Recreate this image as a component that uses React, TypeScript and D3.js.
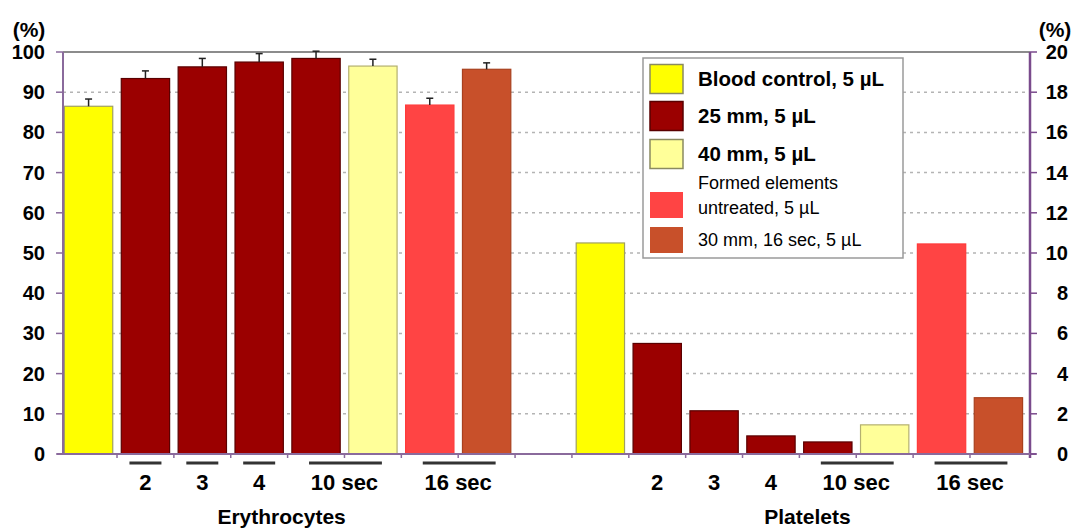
import React, { useEffect, useRef } from 'react';
import * as d3 from 'd3';

// series shown in the legend
const seriesNames = [
  'Blood control, 5 µL',
  '25 mm, 5 µL',
  '40 mm, 5 µL',
  'Formed elements|untreated, 5 µL',
  '30 mm, 16 sec, 5 µL',
];
const seriesColors = ['#ffff00', '#9b0000', '#ffff99', '#ff4444', '#c8502a'];
const seriesStroke = ['#a0a060', '#5a0000', '#b4b070', '#ff3a3a', '#a8401e'];

// bars of each group, in order (index into the series above)
const barSeries = [0, 1, 1, 1, 1, 2, 3, 4];

// Erythrocytes, left axis (%)
const eryKeys = ['E1', 'E2', 'E3', 'E4', 'E5', 'E6', 'E7', 'E8'];
const eryValues = [86.5, 93.4, 96.3, 97.5, 98.4, 96.5, 86.8, 95.7];
const eryErrors = [1.8, 1.9, 2.1, 2.1, 1.8, 1.7, 1.7, 1.6];

// Platelets, right axis (%)
const pltKeys = ['P1', 'P2', 'P3', 'P4', 'P5', 'P6', 'P7', 'P8'];
const pltValues = [10.5, 5.5, 2.15, 0.9, 0.6, 1.45, 10.45, 2.8];

// labels under the bars: text, first and last key, underline or not
const xLabels = [
  { text: '2', from: 'E2', to: 'E2', line: true },
  { text: '3', from: 'E3', to: 'E3', line: true },
  { text: '4', from: 'E4', to: 'E4', line: true },
  { text: '10 sec', from: 'E5', to: 'E6', line: true },
  { text: '16 sec', from: 'E7', to: 'E8', line: true },
  { text: '2', from: 'P2', to: 'P2', line: false },
  { text: '3', from: 'P3', to: 'P3', line: false },
  { text: '4', from: 'P4', to: 'P4', line: false },
  { text: '10 sec', from: 'P5', to: 'P6', line: true },
  { text: '16 sec', from: 'P7', to: 'P8', line: true },
];
const groupNames = ['Erythrocytes', 'Platelets'];

const leftTicks = [0, 10, 20, 30, 40, 50, 60, 70, 80, 90, 100];
const rightTicks = [0, 2, 4, 6, 8, 10, 12, 14, 16, 18, 20];

export default function App() {
  const svgRef = useRef<SVGSVGElement>(null);

  const width = 1074;
  const height = 528;
  const left = 63, right = 1030, top = 52, bottom = 454;
  const font = '"Liberation Sans", Arial, sans-serif';

  useEffect(() => {
    const svg = d3.select(svgRef.current);
    svg.selectAll('*').remove();

    const keys = [...eryKeys, 'gap', ...pltKeys];
    const x = d3.scaleBand<string>().domain(keys).range([61, 1026])
      .paddingInner(0.15).paddingOuter(0.06);
    const yL = d3.scaleLinear().domain([0, 100]).range([bottom, top]);
    const yR = d3.scaleLinear().domain([0, 20]).range([bottom, top]);
    const bw = x.bandwidth();
    const gapHalf = (x.step() - bw) / 2;

    svg.append('rect').attr('width', width).attr('height', height).attr('fill', '#fff');

    // dotted grid
    svg.append('g')
      .selectAll('line')
      .data(leftTicks.slice(1, -1))
      .join('line')
      .attr('x1', left).attr('x2', right)
      .attr('y1', d => yL(d)).attr('y2', d => yL(d))
      .attr('stroke', '#b4b4b4').attr('stroke-width', 1.5)
      .attr('stroke-dasharray', '3,4');

    // top border
    svg.append('line')
      .attr('x1', left).attr('x2', right).attr('y1', yL(100)).attr('y2', yL(100))
      .attr('stroke', '#8c8c8c').attr('stroke-width', 2);

    // bars
    const bars = svg.append('g');
    bars.selectAll('rect.ery')
      .data(eryValues)
      .join('rect')
      .attr('class', 'ery')
      .attr('x', (d, i) => x(eryKeys[i])!)
      .attr('y', d => yL(d))
      .attr('width', bw)
      .attr('height', d => bottom - yL(d))
      .attr('fill', (d, i) => seriesColors[barSeries[i]])
      .attr('stroke', (d, i) => seriesStroke[barSeries[i]])
      .attr('stroke-width', 1.2);

    bars.selectAll('rect.plt')
      .data(pltValues)
      .join('rect')
      .attr('class', 'plt')
      .attr('x', (d, i) => x(pltKeys[i])!)
      .attr('y', d => yR(d))
      .attr('width', bw)
      .attr('height', d => bottom - yR(d))
      .attr('fill', (d, i) => seriesColors[barSeries[i]])
      .attr('stroke', (d, i) => seriesStroke[barSeries[i]])
      .attr('stroke-width', 1.2);

    // error bars
    const err = svg.append('g').attr('stroke', '#222').attr('stroke-width', 1.5);
    eryValues.forEach((v, i) => {
      const cx = x(eryKeys[i])! + bw / 2;
      err.append('line').attr('x1', cx).attr('x2', cx)
        .attr('y1', yL(v)).attr('y2', yL(v + eryErrors[i]));
      err.append('line').attr('x1', cx - 3.5).attr('x2', cx + 3.5)
        .attr('y1', yL(v + eryErrors[i])).attr('y2', yL(v + eryErrors[i]));
    });

    // axes
    const axisColor = '#8a6a9c';
    svg.append('line').attr('x1', left).attr('x2', left).attr('y1', top).attr('y2', bottom)
      .attr('stroke', axisColor).attr('stroke-width', 2);
    svg.append('line').attr('x1', right).attr('x2', right).attr('y1', top).attr('y2', bottom + 4)
      .attr('stroke', '#7a4a8c').attr('stroke-width', 2.5);
    svg.append('line').attr('x1', left - 6).attr('x2', right + 6).attr('y1', bottom).attr('y2', bottom)
      .attr('stroke', axisColor).attr('stroke-width', 2);

    // small ticks between the bars
    svg.append('g')
      .selectAll('line')
      .data(keys.slice(1))
      .join('line')
      .attr('x1', d => x(d)! - gapHalf).attr('x2', d => x(d)! - gapHalf)
      .attr('y1', bottom).attr('y2', bottom + 4)
      .attr('stroke', axisColor).attr('stroke-width', 1.5);

    const leftAxis = svg.append('g').attr('font-family', font).attr('font-weight', 'bold')
      .attr('font-size', 20).attr('fill', '#000');
    leftTicks.forEach(t => {
      leftAxis.append('line').attr('x1', left - 7).attr('x2', left).attr('y1', yL(t)).attr('y2', yL(t))
        .attr('stroke', axisColor).attr('stroke-width', 1.5);
      leftAxis.append('text').attr('x', 45).attr('y', yL(t)).attr('dy', '0.35em')
        .attr('text-anchor', 'end').text(t);
    });
    leftAxis.append('text').attr('x', 29).attr('y', 30).attr('dy', '0.35em')
      .attr('text-anchor', 'middle').attr('font-size', 21).text('(%)');

    const rightAxis = svg.append('g').attr('font-family', font).attr('font-weight', 'bold')
      .attr('font-size', 20).attr('fill', '#000');
    rightTicks.forEach(t => {
      rightAxis.append('line').attr('x1', right).attr('x2', right + 7).attr('y1', yR(t)).attr('y2', yR(t))
        .attr('stroke', '#7a4a8c').attr('stroke-width', 1.5);
      rightAxis.append('text').attr('x', 1068).attr('y', yR(t)).attr('dy', '0.35em')
        .attr('text-anchor', 'end').text(t);
    });
    rightAxis.append('text').attr('x', 1055).attr('y', 30).attr('dy', '0.35em')
      .attr('text-anchor', 'middle').attr('font-size', 21).text('(%)');

    // category labels
    const lab = svg.append('g').attr('font-family', font).attr('font-weight', 'bold')
      .attr('font-size', 22).attr('fill', '#000');
    xLabels.forEach(l => {
      const a = x(l.from)! + bw / 2;
      const b = x(l.to)! + bw / 2;
      const cx = (a + b) / 2;
      if (l.line) {
        const x1 = l.from === l.to ? cx - 16 : a - 7;
        const x2 = l.from === l.to ? cx + 16 : b + 9;
        lab.append('line').attr('x1', x1).attr('x2', x2).attr('y1', 463).attr('y2', 463)
          .attr('stroke', '#333').attr('stroke-width', 3);
      }
      lab.append('text').attr('x', cx).attr('y', 482).attr('dy', '0.35em')
        .attr('text-anchor', 'middle').text(l.text);
    });
    const groupCenters = [
      (x(eryKeys[0])! + x(eryKeys[7])! + bw) / 2 - 6,
      (x(pltKeys[0])! + x(pltKeys[7])! + bw) / 2 + 8,
    ];
    groupNames.forEach((g, i) => {
      lab.append('text').attr('x', groupCenters[i]).attr('y', 517).attr('dy', '0.35em')
        .attr('font-size', 21).attr('text-anchor', 'middle').text(g);
    });

    // legend
    const lg = svg.append('g').attr('font-family', font).attr('fill', '#000');
    lg.append('rect').attr('x', 643).attr('y', 58).attr('width', 260).attr('height', 200)
      .attr('fill', '#fff').attr('stroke', '#9a9a9a').attr('stroke-width', 1.5);
    const rowY = [79, 116, 154, 205, 240];
    seriesNames.forEach((name, i) => {
      const bold = i < 3;
      const sh = bold ? 29 : 26;
      lg.append('rect').attr('x', 650).attr('y', rowY[i] - sh / 2).attr('width', 33).attr('height', sh)
        .attr('fill', seriesColors[i])
        .attr('stroke', bold ? (i === 1 ? '#5a0000' : '#8a8a60') : 'none')
        .attr('stroke-width', 1.5);
      const lines = name.split('|');
      lines.forEach((ln, j) => {
        const yy = lines.length > 1 ? (j === 0 ? rowY[i] - 22 : rowY[i] + 3) : rowY[i];
        lg.append('text').attr('x', 698).attr('y', yy)
          .attr('dy', '0.35em')
          .attr('font-size', bold ? 20.5 : 18)
          .attr('font-weight', bold ? 'bold' : 'normal')
          .text(ln);
      });
    });
  });

  return (
    <svg
      ref={svgRef}
      width={width}
      height={height}
      style={{ position: 'absolute', left: 0, top: 0, display: 'block' }}
    />
  );
}
